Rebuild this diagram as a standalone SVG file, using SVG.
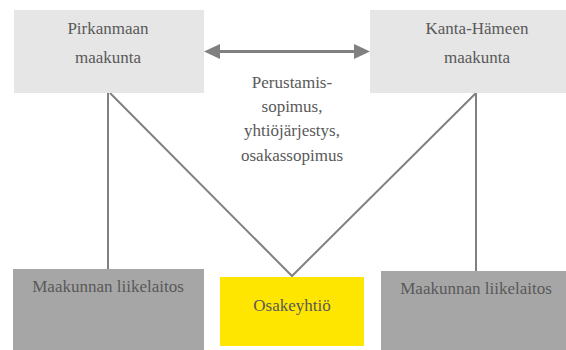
<svg xmlns="http://www.w3.org/2000/svg" width="566" height="350" viewBox="0 0 566 350">
  <style>
    text { font-size: 17px; fill: #595959; text-anchor: middle; }
    .top { fill: #e6e6e6; }
    .unit { fill: #a6a6a6; }
    .oy { fill: #ffe600; }
    .line { stroke: #808080; stroke-width: 2; fill: none; }
    .arrow { stroke: #808080; stroke-width: 3; fill: none; }
  </style>
  <defs>
    <marker id="ah" viewBox="0 0 16 15" refX="0" refY="7.5" markerWidth="16" markerHeight="15" markerUnits="userSpaceOnUse" orient="auto-start-reverse">
      <path d="M0,0 L16,7.5 L0,15 Z" fill="#808080"/>
    </marker>
  </defs>
  <g id="connectors">
    <line class="arrow" x1="220" y1="51.5" x2="354" y2="51.5" marker-start="url(#ah)" marker-end="url(#ah)"/>
    <line class="line" x1="108" y1="93" x2="108" y2="269"/>
    <line class="line" x1="476" y1="93" x2="476" y2="271"/>
    <polyline class="line" points="110,93 292,276 476,93"/>
  </g>
  <g id="label-agreement" font-family="Liberation Serif, DejaVu Serif, serif">
    <text x="292" y="88">Perustamis-</text>
    <text x="292" y="112">sopimus,</text>
    <text x="292" y="136">yhtiöjärjestys,</text>
    <text x="292" y="161">osakassopimus</text>
  </g>
  <g id="pirkanmaa" font-family="Liberation Serif, DejaVu Serif, serif">
    <rect class="top" x="14" y="10" width="190" height="83"/>
    <text x="108" y="34">Pirkanmaan</text>
    <text x="108" y="63">maakunta</text>
  </g>
  <g id="kanta-hame" font-family="Liberation Serif, DejaVu Serif, serif">
    <rect class="top" x="370" y="10" width="196" height="83"/>
    <text x="477" y="34">Kanta-Hämeen</text>
    <text x="477" y="63">maakunta</text>
  </g>
  <g id="liikelaitos-left" font-family="Liberation Serif, DejaVu Serif, serif">
    <rect class="unit" x="13" y="269" width="191" height="81"/>
    <text x="108" y="292">Maakunnan liikelaitos</text>
  </g>
  <g id="osakeyhtio" font-family="Liberation Serif, DejaVu Serif, serif">
    <rect class="oy" x="220" y="277" width="144" height="69"/>
    <text x="292" y="311">Osakeyhtiö</text>
  </g>
  <g id="liikelaitos-right" font-family="Liberation Serif, DejaVu Serif, serif">
    <rect class="unit" x="381" y="271" width="185" height="79"/>
    <text x="476" y="294">Maakunnan liikelaitos</text>
  </g>
</svg>
